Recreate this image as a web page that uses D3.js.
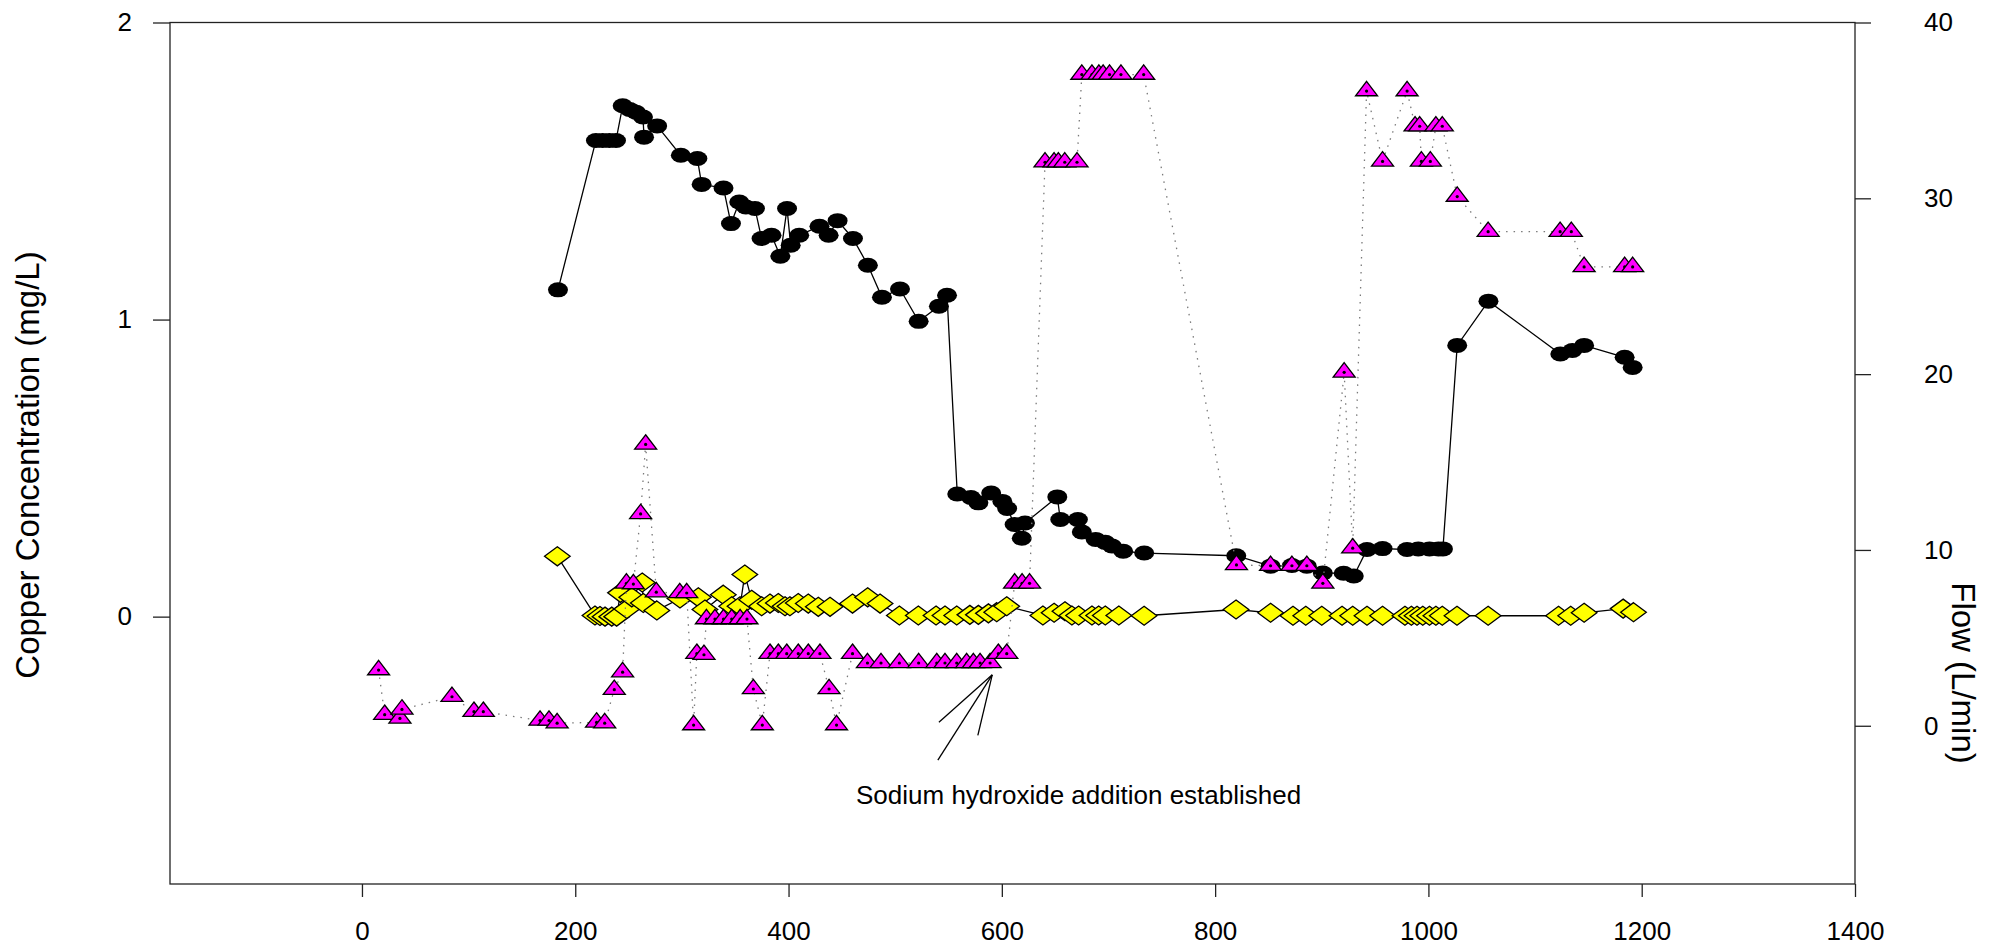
<!DOCTYPE html>
<html>
<head>
<meta charset="utf-8">
<script src="https://cdn.jsdelivr.net/npm/d3@7"></script>
<style>
  html, body { margin: 0; padding: 0; background: #fff; }
  svg { display: block; font-family: "Liberation Sans", Arial, Helvetica, sans-serif; }
  .frame { fill: none; stroke: #222; stroke-width: 1.3; }
  .axis path { display: none; }
  .axis line { stroke: #222; stroke-width: 1.3; }
  .axis text { fill: #000; font-size: 26px; }
  .ttl { font-size: 33px; fill: #000; }
  .ln-solid { fill: none; stroke: #000; stroke-width: 1.3; }
  .ln-dot { fill: none; stroke: #7a7a7a; stroke-width: 1.3; stroke-dasharray: 1.5 6; }
  .mk { stroke: #000; stroke-width: 1.3; }
  .note { font-size: 26px; fill: #000; }
</style>
</head>
<body>
<svg id="chart" width="2001" height="947"></svg>
<script>
// axes
const xTicks = [0, 200, 400, 600, 800, 1000, 1200, 1400];
const copperTicks = [0, 1, 2];
const flowTicks = [0, 10, 20, 30, 40];
const copperLabel = 'Copper Concentration (mg/L)';
const flowLabel = 'Flow (L/min)';

// black circles: copper (mg/L), left axis
const copperA = [
  [183.8,1.10],[219.4,1.603],[225.7,1.603],[232,1.603],[238.2,1.603],[244.5,1.72],
  [251,1.707],[257,1.698],[263.5,1.682],[264.5,1.614],[276.8,1.652],[299,1.553],
  [314.5,1.542],[318.5,1.455],[339,1.443],[346,1.323],[353.8,1.396],[360,1.379],
  [368.5,1.374],[374.7,1.273],[384,1.284],[392.3,1.213],[398.6,1.374],[402,1.25],
  [410,1.284],[429,1.314],[437.6,1.284],[446,1.333],[460.4,1.273],[474.4,1.183],
  [487.6,1.075],[504.5,1.103],[522,0.994],[541,1.045],[548.6,1.082],[558.2,0.413],
  [571,0.401],[578,0.383],[590,0.416],[600.5,0.388],[605,0.364],[612,0.31],
  [618.7,0.264],[621.7,0.315],[652,0.403],[654.8,0.327],[671.3,0.327],[675,0.285],
  [688,0.26],[697,0.25],[703.3,0.238],[713.8,0.22],[733.5,0.214],[819.8,0.205],
  [852,0.17],[872,0.172],[886,0.17],[901,0.147],[920.5,0.146],[930,0.137],
  [942.4,0.226],[957,0.229],[980,0.226],[990.5,0.228],[1001,0.228],[1009.4,0.228],
  [1013.6,0.228],[1027,0.913],[1056.3,1.062],[1123.7,0.884],[1135,0.896],[1146,0.913],
  [1184,0.873],[1191.5,0.839]
];

// yellow diamonds: copper (mg/L), left axis
const copperB = [
  [183.2,0.203],[218.5,0.004],[223.2,0.002],[227.9,0],[234.2,0],[238.8,0],
  [242.4,0.08],[248.4,0.026],[253,0.065],[262.8,0.115],[263.8,0.046],[276.5,0.021],
  [298.2,0.061],[315.4,0.065],[321.6,0.024],[338.8,0.074],[346.7,0.035],[354.5,0.035],
  [359,0.142],[365.4,0.057],[374.8,0.035],[382.6,0.044],[390.4,0.046],[396.7,0.035],
  [401.3,0.035],[409.1,0.046],[418.5,0.044],[427.9,0.033],[438.9,0.033],[460,0.044],
  [474.2,0.065],[485.8,0.044],[503.9,0.004],[521.7,0.004],[538.3,0.004],[546.7,0.004],
  [557.7,0.004],[570,0.006],[578,0.006],[587.4,0.011],[595.2,0.015],[604.6,0.035],
  [638.5,0.004],[649,0.013],[659.2,0.018],[665.7,0.004],[672,0.004],[684.5,0.004],
  [690.8,0.004],[697,0.004],[709.7,0.004],[733.4,0.003],[819.6,0.024],[852,0.013],
  [873,0.003],[885,0.003],[900,0.003],[919,0.003],[929,0.003],[942.4,0.003],
  [957,0.003],[978,0.003],[984,0.003],[989.3,0.003],[994.7,0.003],[1001,0.003],
  [1007,0.003],[1013,0.003],[1026.8,0.003],[1056,0.003],[1122,0.003],[1133.4,0.003],
  [1146,0.013],[1182.6,0.027],[1192.3,0.015]
];

// magenta triangles: flow (L/min), right axis
const flow = [
  [15.6,3.17],[21.3,0.63],[35.6,0.42],[37.5,0.93],[84.4,1.65],[105,0.8],[113.8,0.8],
  [167,0.3],[175.4,0.3],[183,0.15],[220,0.19],[227.6,0.15],[236.6,2.05],[244.4,3.05],
  [248,8.1],[254.5,8.06],[261.3,12.05],[266,16.0],[276,7.6],[298,7.55],[304.5,7.55],
  [311,0.04],[314,4.1],[320.7,4.04],[323,6.07],[331,6.07],[339,6.07],[346.7,6.07],
  [354.6,6.07],[361,6.07],[367,2.09],[375.4,0.04],[382.6,4.1],[390.4,4.1],[398.3,4.1],
  [409.1,4.1],[418.5,4.1],[429.4,4.1],[438,2.09],[445,0.04],[460,4.1],[474,3.57],
  [486.7,3.57],[503.9,3.57],[522,3.57],[539,3.57],[546.7,3.57],[557.7,3.57],[567,3.57],
  [573.3,3.57],[579.6,3.57],[589,3.57],[596.7,4.1],[604.6,4.1],[612,8.1],[619,8.1],
  [626,8.1],[640.5,32.05],[649,32.05],[653,32.05],[659,32.05],[670.5,32.05],[675,37.04],
  [684.5,37.04],[691,37.04],[695,37.04],[701,37.04],[711.7,37.04],[733,37.04],[820,9.15],
  [852,9.1],[872,9.1],[886,9.1],[901,8.1],[921,20.1],[929,10.1],[942,36.1],[957,32.1],
  [980,36.1],[987.5,34.1],[991.8,34.1],[993.4,32.1],[1001.8,32.1],[1007,34.1],[1013,34.1],
  [1027,30.1],[1056,28.1],[1123.5,28.1],[1134,28.1],[1146,26.1],[1184,26.1],[1191.5,26.1]
];

// annotation (x, flow units)
const noteText = 'Sodium hydroxide addition established';
const notePos = [672, -4.43];
const noteApex = [591, 2.9];
const noteEnds = [[541, 0.2], [540, -1.95], [577.5, -0.55]];

const box = { l: 170, r: 1855, t: 22.5, b: 884 };

const svg = d3.select('#chart');

const x = d3.scaleLinear().domain([-180, 1400]).range([box.l, box.r]);
const yL = d3.scaleLinear().domain([-0.9, 2]).range([box.b, box.t]);
const yR = d3.scaleLinear().domain([-9, 40]).range([box.b, box.t]);

// Frame
svg.append('rect').attr('class', 'frame')
  .attr('x', box.l).attr('y', box.t)
  .attr('width', box.r - box.l).attr('height', box.b - box.t);

// Axes
const gx = svg.append('g').attr('class', 'axis')
  .attr('transform', `translate(0,${box.b})`)
  .call(d3.axisBottom(x).tickValues(xTicks).tickSize(13).tickFormat(d3.format('d')));
gx.selectAll('text').attr('y', 56).attr('dy', 0);

svg.append('g').attr('class', 'axis')
  .attr('transform', `translate(${box.l},0)`)
  .call(d3.axisLeft(yL).tickValues(copperTicks).tickSize(17).tickPadding(21).tickFormat(d3.format('d')));

svg.append('g').attr('class', 'axis')
  .attr('transform', `translate(${box.r},0)`)
  .call(d3.axisRight(yR).tickValues(flowTicks).tickSize(16).tickPadding(53).tickFormat(d3.format('d')));

// Axis titles
svg.append('text').attr('class', 'ttl')
  .attr('transform', 'translate(27,465) rotate(-90)')
  .attr('text-anchor', 'middle').attr('dy', '0.35em')
  .text(copperLabel);
svg.append('text').attr('class', 'ttl')
  .attr('transform', 'translate(1964,673) rotate(90)')
  .attr('text-anchor', 'middle').attr('dy', '0.35em')
  .text(flowLabel);

// Series lines + markers
const lineL = d3.line().x(d => x(d[0])).y(d => yL(d[1]));
const lineR = d3.line().x(d => x(d[0])).y(d => yR(d[1]));

const diamond = 'M0,-9.5L12.8,0L0,9.5L-12.8,0Z';
const tri = 'M0,-9.7L11,4.7L-11,4.7Z';

// yellow diamonds
svg.append('path').datum(copperB).attr('class', 'ln-solid').attr('d', lineL);
svg.append('g').selectAll('path').data(copperB).enter().append('path')
  .attr('class', 'mk').attr('d', diamond).attr('fill', '#ffff00')
  .attr('transform', d => `translate(${x(d[0])},${yL(d[1])})`);

// black circles
svg.append('path').datum(copperA).attr('class', 'ln-solid').attr('d', lineL);
svg.append('g').selectAll('ellipse').data(copperA).enter().append('ellipse')
  .attr('cx', d => x(d[0])).attr('cy', d => yL(d[1]))
  .attr('rx', 10).attr('ry', 7.5).attr('fill', '#000');

// magenta triangles
svg.append('path').datum(flow).attr('class', 'ln-dot').attr('d', lineR);
const gt = svg.append('g').selectAll('g').data(flow).enter().append('g')
  .attr('transform', d => `translate(${x(d[0])},${yR(d[1])})`);
gt.append('path').attr('class', 'mk').attr('d', tri).attr('fill', '#ff00ff');
gt.append('circle').attr('r', 1.6).attr('fill', '#000');

// Annotation
noteEnds.forEach(e => {
  svg.append('line').attr('class', 'ln-solid')
    .attr('x1', x(noteApex[0])).attr('y1', yR(noteApex[1]))
    .attr('x2', x(e[0])).attr('y2', yR(e[1]));
});
svg.append('text').attr('class', 'note')
  .attr('x', x(notePos[0])).attr('y', yR(notePos[1]))
  .attr('text-anchor', 'middle')
  .text(noteText);
</script>
</body>
</html>
